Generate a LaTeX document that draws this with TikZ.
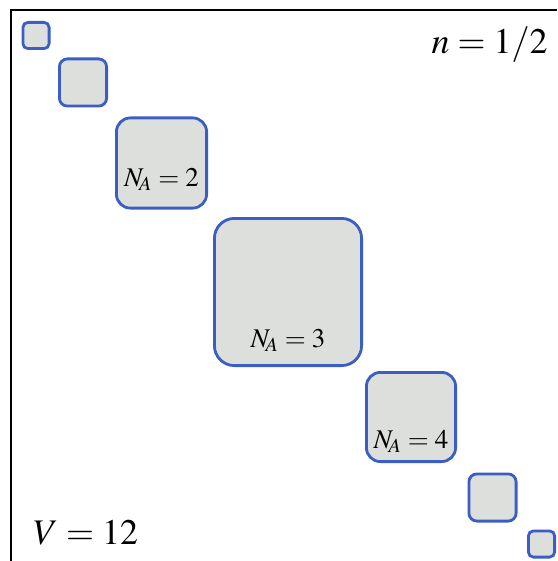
\documentclass[tikz,border=0pt]{standalone}
\usepackage{mathptmx}
\usepackage{tikz}
\usetikzlibrary{positioning,calc}
\definecolor{cellfill}{RGB}{221,223,221}
\definecolor{cellblue}{RGB}{58,94,196}
\tikzset{%
  cell/.style={draw=cellblue,fill=cellfill,line width=1.4pt,inner sep=0pt},
  frame/.style={line width=1.1pt}%
}

\begin{document}
\begin{tikzpicture}[
    x=0.5pt, y=-0.5pt,
    sizelab/.style={font=\fontsize{13.5}{16}\selectfont, anchor=base, inner sep=0pt},
    biglab/.style={font=\fontsize{18}{22}\selectfont, inner sep=0pt}
]
\useasboundingbox (0,0) rectangle (557,561);

% Frame (top and left edges only)
\coordinate (corner) at (11,10);
\draw[frame] (11,561) -- (corner) -- (557,10);

% Blocks along the diagonal
\node[cell, minimum size=13.1pt, rounded corners=2.5pt] (b1) at (36,35.5) {};
\node[cell, minimum size=23.6pt, rounded corners=4pt] (b2) at (83,82.5) {};
\node[cell, minimum size=45.1pt, rounded corners=7pt] (b3) at (161.5,163) {};
\node[cell, minimum size=73.6pt, rounded corners=10pt] (b4) at (288,292) {};
\node[cell, minimum size=44.6pt, rounded corners=7pt] (b5) at (411,417) {};
\node[cell, minimum size=23.6pt, rounded corners=4pt] (b6) at (492.5,497.5) {};
\node[cell, minimum size=13.1pt, rounded corners=2.5pt] (b7) at (541.5,544) {};

% Block labels
\node[sizelab] (l2) at ($(b3.south)+(0,-23)$) {$N_{\!A} = 2$};
\node[sizelab] (l3) at ($(b4.south)+(0,-20)$) {$N_{\!A} = 3$};
\node[sizelab] (l4) at ($(b5.south)+(0,-15)$) {$N_{\!A} = 4$};

% Corner labels
\node[biglab, anchor=base east] (nval) at (548,54) {$n = 1/2$};
\node[biglab, anchor=base west] (vol) at (33,544) {$V = 12$};

\end{tikzpicture}
\end{document}
